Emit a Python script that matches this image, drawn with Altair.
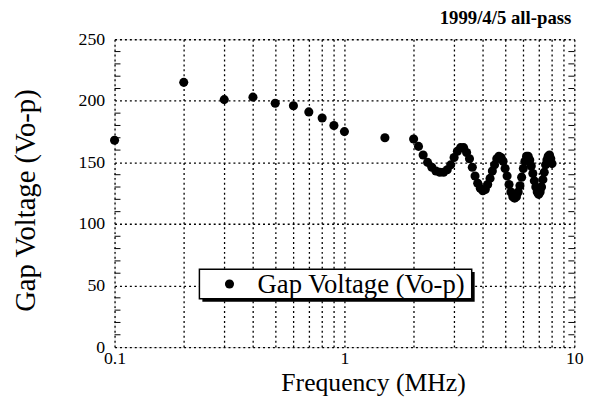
import altair as alt
import pandas as pd

# ---- data ----
freq_mhz = [0.1, 0.2, 0.3, 0.4, 0.5, 0.6, 0.7, 0.8, 0.9, 1.0, 1.5,
            2.0, 2.1, 2.2, 2.3, 2.4, 2.5, 2.6, 2.7, 2.8, 2.9,
            3.0, 3.1, 3.2, 3.3, 3.4, 3.5, 3.6, 3.7, 3.8, 3.9,
            4.0, 4.1, 4.2, 4.3, 4.4, 4.5, 4.6, 4.7, 4.8, 4.9,
            5.0, 5.1, 5.2, 5.3, 5.4, 5.5, 5.6, 5.7, 5.8, 5.9,
            6.0, 6.1, 6.2, 6.3, 6.4, 6.5, 6.6, 6.7, 6.8, 6.9,
            7.0, 7.1, 7.2, 7.3, 7.4, 7.5, 7.6, 7.7, 7.8, 7.9, 8.0]
gap_voltage = [168, 215, 201, 203, 198, 196, 191, 186, 180, 175, 170,
               169, 163, 156, 150, 146, 143, 142, 142, 144, 148,
               154, 159, 162, 162, 158, 153, 146, 139, 133, 129,
               127, 128, 132, 137, 143, 148, 153, 155, 154, 151,
               145, 139, 132, 126, 122, 121, 122, 126, 131, 138,
               145, 151, 155, 155, 152, 147, 141, 135, 130, 126,
               124, 126, 130, 136, 142, 148, 152, 155, 156, 153, 149]

x_grid_values = [0.1, 0.2, 0.3, 0.4, 0.5, 0.6, 0.7, 0.8, 0.9, 1,
                 2, 3, 4, 5, 6, 7, 8, 9, 10]
y_values = [0, 50, 100, 150, 200, 250]
y_minor = [10, 20, 30, 40, 60, 70, 80, 90, 110, 120, 130, 140,
           160, 170, 180, 190, 210, 220, 230, 240]
legend_label = "Gap Voltage (Vo-p)"
chart_title = "1999/4/5 all-pass"
x_title = "Frequency (MHz)"
y_title = "Gap Voltage (Vo-p)"

W, H = 466, 312
SERIF = "Liberation Serif"

df = pd.DataFrame({"freq": freq_mhz, "volt": gap_voltage})
ticks_df = pd.DataFrame({"volt": y_minor})
one = alt.Data(values=[{"label": legend_label, "title": chart_title}])

x_enc = alt.X(
    "freq:Q",
    scale=alt.Scale(type="log", domain=[0.1, 10], nice=False),
    axis=alt.Axis(
        values=x_grid_values, grid=True, gridDash=[2, 3], gridColor="black",
        gridWidth=1.3, gridOpacity=1, ticks=False, domain=False,
        labelExpr="(datum.value == 0.1 || datum.value == 1 || datum.value == 10) ? format(datum.value, '~g') : ''",
        labelOverlap=False, labelFlush=False, labelFont=SERIF, labelFontSize=18,
        labelColor="black", labelPadding=3,
        title=x_title, titleFont=SERIF, titleFontSize=26, titleFontWeight="normal",
        titleColor="black", titleX=262, titleY=36, titleBaseline="middle",
    ),
)
y_enc = alt.Y(
    "volt:Q",
    scale=alt.Scale(domain=[0, 250], nice=False),
    axis=alt.Axis(
        values=y_values, grid=True, gridDash=[2, 3], gridColor="black",
        gridWidth=1.3, gridOpacity=1, ticks=False, domain=False,
        labelFont=SERIF, labelFontSize=18, labelColor="black", labelPadding=10,
        title=y_title, titleFont=SERIF, titleFontSize=29, titleFontWeight="normal",
        titleColor="black", titleX=-90, titleY=H / 2 + 7, titleAngle=270,
        titleAlign="center", titleBaseline="middle",
    ),
)

points = alt.Chart(df).mark_circle(size=85, color="black", opacity=1).encode(x=x_enc, y=y_enc)

ticks_left = alt.Chart(ticks_df).mark_rule(color="black", strokeWidth=1).encode(
    y=alt.Y("volt:Q"), x=alt.value(0), x2=alt.value(6))
ticks_right = alt.Chart(ticks_df).mark_rule(color="black", strokeWidth=1).encode(
    y=alt.Y("volt:Q"), x=alt.value(W - 6), x2=alt.value(W))

shadow = alt.Chart(one).mark_rect(color="black").encode(
    x=alt.value(89), x2=alt.value(365), y=alt.value(236), y2=alt.value(266))
box = alt.Chart(one).mark_rect(fill="white", stroke="black", strokeWidth=1.5).encode(
    x=alt.value(86), x2=alt.value(362), y=alt.value(233), y2=alt.value(263))
leg_pt = alt.Chart(one).mark_circle(size=85, color="black", opacity=1).encode(
    x=alt.value(116.5), y=alt.value(248))
leg_txt = alt.Chart(one).mark_text(align="left", baseline="middle", font=SERIF,
                                   fontSize=27, color="black").encode(
    x=alt.value(145), y=alt.value(249), text="label:N")
title_txt = alt.Chart(one).mark_text(align="right", baseline="alphabetic", font=SERIF,
                                     fontSize=19, fontWeight="bold", color="black").encode(
    x=alt.value(W - 3), y=alt.value(-15), text="title:N")

chart = alt.layer(points, ticks_left, ticks_right, shadow, box, leg_pt, leg_txt,
                  title_txt).properties(
    width=W, height=H,
    autosize=alt.AutoSizeParams(type="none"),
    padding={"left": 108, "top": 29, "right": 23, "bottom": 55},
).configure_view(stroke="black", strokeWidth=1.5).configure(background="white")

chart.save("out.html", embed_options={"renderer": "svg", "actions": False})
